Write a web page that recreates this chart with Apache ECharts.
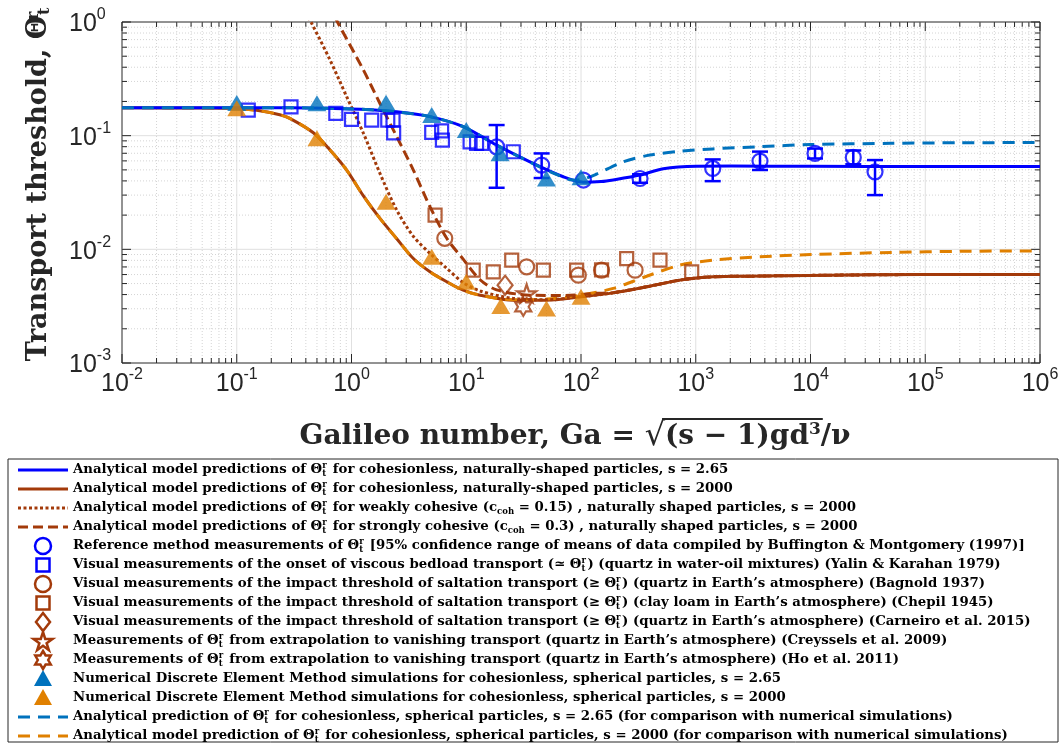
<!DOCTYPE html>
<html><head><meta charset="utf-8">
<script src="https://cdn.jsdelivr.net/npm/echarts@6/dist/echarts.min.js"></script>
<style>html,body{margin:0;padding:0;background:#fff}#c{width:1064px;height:746px}</style>
</head><body><div id="c"></div>
<script>
// ---------------- data ----------------
const xTickExponents = [-2, -1, 0, 1, 2, 3, 4, 5, 6];
const yTickExponents = [-3, -2, -1, 0];

// analytical curves [Ga, Theta]
const analyticNatural265 = [[0.01,0.176],[0.1,0.176],[0.3,0.176],[0.65,0.174],[1.2,0.171],[2.48,0.162],[4.83,0.147],[9.4,0.12],[18.4,0.0826],[35.9,0.0589],[70,0.0435],[105,0.039],[150,0.0395],[191,0.0408],[327,0.045],[521,0.0512],[1019,0.0538],[2053,0.054],[1e4,0.0538],[1e5,0.0535],[1e6,0.0535]];
const analyticSpherical265 = [[0.01,0.176],[0.1,0.176],[0.3,0.176],[0.65,0.174],[1.2,0.171],[2.48,0.162],[4.83,0.147],[9.4,0.12],[18.4,0.0826],[35.9,0.0585],[60,0.046],[85,0.0408],[105,0.0415],[137,0.046],[234,0.0589],[398,0.0675],[700,0.0725],[1406,0.0765],[3630,0.08],[1e4,0.0835],[5e4,0.0856],[2e5,0.0866],[1e6,0.087]];
const analyticNatural2000 = [[0.01,0.176],[0.05,0.175],[0.1,0.173],[0.149,0.167],[0.237,0.153],[0.29,0.142],[0.465,0.106],[0.65,0.0747],[0.908,0.0498],[1.27,0.0295],[1.77,0.0187],[2.48,0.0124],[3.46,0.0083],[4.83,0.00634],[6.76,0.00518],[9.4,0.00437],[13.2,0.00395],[25.7,0.00357],[50,0.00357],[98,0.00382],[191,0.00414],[373,0.00468],[729,0.00536],[1422,0.00573],[2870,0.0058],[1e4,0.0059],[1e5,0.006],[1e6,0.006]];
const analyticSpherical2000 = [[0.01,0.176],[0.05,0.175],[0.1,0.173],[0.149,0.167],[0.237,0.153],[0.29,0.142],[0.465,0.106],[0.65,0.0747],[0.908,0.0498],[1.27,0.0295],[1.77,0.0187],[2.48,0.0124],[3.46,0.0083],[4.83,0.00634],[6.76,0.00518],[9.4,0.00437],[13.2,0.00395],[25.7,0.0036],[50,0.00365],[98,0.00395],[191,0.00453],[373,0.0058],[729,0.00726],[1422,0.00804],[3630,0.0086],[1e4,0.009],[5.2e4,0.0094],[2e5,0.0096],[1e6,0.0097]];
const weakCohesive2000 = [[0.42,1.1],[0.45,0.973],[0.65,0.463],[0.908,0.22],[1.27,0.105],[1.77,0.0466],[2.48,0.0221],[3.46,0.013],[4.83,0.0092],[6.76,0.0068],[9.4,0.0051],[13.2,0.0043],[25.7,0.0037],[50,0.0036],[98,0.00382],[191,0.00414],[373,0.00468],[729,0.00536],[1422,0.00573],[2870,0.0058],[1e4,0.0059],[1e5,0.006],[1e6,0.006]];
const strongCohesive2000 = [[0.72,1.1],[0.767,0.97],[1.27,0.378],[1.77,0.192],[2.48,0.0978],[3.46,0.0498],[4.83,0.0237],[6.76,0.0125],[9.4,0.0082],[13.2,0.0054],[18.4,0.0044],[35.9,0.00395],[70,0.00392],[137,0.0041],[191,0.00416],[373,0.00468],[729,0.00536],[1422,0.00573],[2870,0.0058],[1e4,0.0059],[1e5,0.006],[1e6,0.006]];

// measurements
const buffingtonGa    = [18.4, 45.4, 105, 327, 1406, 3630, 10950, 23600, 36500];
const buffingtonTheta = [0.0798, 0.0551, 0.0407, 0.042, 0.0515, 0.0598, 0.0698, 0.0644, 0.0481];
const buffingtonLow   = [0.0348, 0.0424, null, 0.0385, 0.0398, 0.0499, 0.063, 0.056, 0.030];
const buffingtonHigh  = [0.124, 0.0698, null, 0.0458, 0.0618, 0.0724, 0.077, 0.0741, 0.061];
const yalinKarahan = [[0.126,0.168],[0.297,0.179],[0.73,0.157],[1.0,0.139],[1.5,0.137],[2.07,0.137],[2.3,0.137],[2.33,0.106],[5.0,0.107],[6.1,0.11],[6.2,0.0915],[10.8,0.0883],[12.3,0.0855],[13.6,0.0855],[25.7,0.0722]];
const bagnold = [[6.5,0.0125],[33.6,0.00702],[94.8,0.00593],[151,0.00656],[296,0.00656]];
const chepil = [[5.35,0.02],[11.5,0.00656],[17.2,0.00634],[24.9,0.00804],[47,0.00656],[91.6,0.00656],[151,0.0066],[250,0.0083],[488,0.00804],[922,0.00634]];
const carneiro = [[21.8,0.00484]];
const creyssels = [[33.6,0.00409]];
const hoEtAl = [[31.4,0.00312]];
const demSpherical265 = [[0.1,0.194],[0.5,0.193],[2,0.195],[5,0.152],[10,0.112],[19.7,0.0699],[50,0.042],[100,0.043]];
const demSpherical2000 = [[0.1,0.174],[0.5,0.0947],[2,0.0262],[5,0.00859],[10,0.00518],[20,0.00318],[50,0.00302],[100,0.00382]];

// ---------------- styling ----------------
const C = {blue:'#0000FF', brown:'#A33A0A', steel:'#0072BD', orange:'#E08000', axis:'#262626'};
const PENTA = 'path://M0 -50 L11.23 -15.45 L47.55 -15.45 L18.17 5.9 L29.39 40.45 L0 19.1 L-29.39 40.45 L-18.17 5.9 L-47.55 -15.45 L-11.23 -15.45 Z';
const HEXA = 'path://M0 -50 L14.43 -25 L43.3 -25 L28.87 0 L43.3 25 L14.43 25 L0 50 L-14.43 25 L-43.3 25 L-28.87 0 L-43.3 -25 L-14.43 -25 Z';
const SANS = '"Liberation Sans", Arial, sans-serif';
const SERIF = '"DejaVu Serif", serif';

const chart = echarts.init(document.getElementById('c'), null, {renderer:'canvas'});

const tickLabelRich = {
  b:{fontSize:25, fontFamily:SANS, color:C.axis, lineHeight:30, verticalAlign:'bottom'},
  s:{fontSize:16, fontFamily:SANS, color:C.axis, lineHeight:16, verticalAlign:'top'}
};
function expLabel(v){ const e = Math.round(Math.log10(v)); return '{b|10}{s|' + e + '}'; }

function frameRender(params, api){
  const cs = params.coordSys;
  const L = cs.x, T = cs.y, R = cs.x + cs.width, B = cs.y + cs.height;
  const ch = [];
  const ln = (x1,y1,x2,y2,st) => ch.push({type:'line', shape:{x1,y1,x2,y2}, style:st});
  const minorGrid = {stroke:'#D4D4D4', lineWidth:1, lineDash:[1,2]};
  const majorGrid = {stroke:'#E0E0E0', lineWidth:1};
  const tk = {stroke:C.axis, lineWidth:1};
  xTickExponents.forEach((e, i) => {
    const xv = Math.pow(10, e);
    const px = api.coord([xv, 0.01])[0];
    if (i > 0 && i < xTickExponents.length - 1) ln(px, T, px, B, majorGrid);
    ln(px, B, px, B - 9, tk); ln(px, T, px, T + 9, tk);
    if (i < xTickExponents.length - 1) {
      for (let m = 2; m <= 9; m++) {
        const mx = api.coord([m * xv, 0.01])[0];
        ln(mx, T, mx, B, minorGrid);
        ln(mx, B, mx, B - 5, tk); ln(mx, T, mx, T + 5, tk);
      }
    }
  });
  yTickExponents.forEach((e, i) => {
    const yv = Math.pow(10, e);
    const py = api.coord([1, yv])[1];
    if (i > 0 && i < yTickExponents.length - 1) ln(L, py, R, py, majorGrid);
    ln(L, py, L + 9, py, tk); ln(R, py, R - 9, py, tk);
    if (i < yTickExponents.length - 1) {
      for (let m = 2; m <= 9; m++) {
        const my = api.coord([1, m * yv])[1];
        ln(L, my, R, my, minorGrid);
        ln(L, my, L + 5, my, tk); ln(R, my, R - 5, my, tk);
      }
    }
  });
  return {type:'group', children: ch};
}

function errorRender(params, api){
  const x = api.value(0), lo = api.value(2), hi = api.value(3);
  if (lo == null || isNaN(lo) || hi == null || isNaN(hi)) return null;
  const pLo = api.coord([x, lo]), pHi = api.coord([x, hi]);
  const st = {stroke:C.blue, lineWidth:2.5};
  return {type:'group', children:[
    {type:'line', shape:{x1:pLo[0], y1:pLo[1], x2:pHi[0], y2:pHi[1]}, style:st},
    {type:'line', shape:{x1:pLo[0]-8, y1:pLo[1], x2:pLo[0]+8, y2:pLo[1]}, style:st},
    {type:'line', shape:{x1:pHi[0]-8, y1:pHi[1], x2:pHi[0]+8, y2:pHi[1]}, style:st}
  ]};
}

const lineSeries = (data, color, dash, z) => ({
  type:'line', data, symbol:'none', smooth:0.3, clip:true, z,
  lineStyle:{color, width:3, type:dash}, silent:true
});
const open = (color) => ({color:'rgba(0,0,0,0)', borderColor:color, borderWidth:2.2});

const buffingtonPoints = buffingtonGa.map((g, i) => [g, buffingtonTheta[i]]);
const buffingtonBars = buffingtonGa.map((g, i) => [g, buffingtonTheta[i], buffingtonLow[i], buffingtonHigh[i]]);

// ---------------- legend (graphic) ----------------
const TH = 'Θ{sr|r}{st|t}';
const legendRows = [
  {icon:'line', color:C.blue, dash:null, text:'Analytical model predictions of '+TH+' for cohesionless, naturally-shaped particles, s = 2.65'},
  {icon:'line', color:C.brown, dash:null, text:'Analytical model predictions of '+TH+' for cohesionless, naturally-shaped particles, s = 2000'},
  {icon:'line', color:C.brown, dash:[3,2.5], text:'Analytical model predictions of '+TH+' for weakly cohesive (c{sb|coh} = 0.15) , naturally shaped particles, s = 2000'},
  {icon:'line', color:C.brown, dash:[10,5], text:'Analytical model predictions of '+TH+' for strongly cohesive (c{sb|coh} = 0.3) , naturally shaped particles, s = 2000'},
  {icon:'circle', color:C.blue, text:'Reference method measurements of '+TH+' [95% confidence range of means of data compiled by Buffington & Montgomery (1997)]'},
  {icon:'square', color:C.blue, text:'Visual measurements of the onset of viscous bedload transport (≃ '+TH+') (quartz in water-oil mixtures) (Yalin & Karahan 1979)'},
  {icon:'circle', color:C.brown, text:'Visual measurements of the impact threshold of saltation transport (≥ '+TH+') (quartz in Earth’s atmosphere) (Bagnold 1937)'},
  {icon:'square', color:C.brown, text:'Visual measurements of the impact threshold of saltation transport (≥ '+TH+') (clay loam in Earth’s atmosphere) (Chepil 1945)'},
  {icon:'diamond', color:C.brown, text:'Visual measurements of the impact threshold of saltation transport (≥ '+TH+') (quartz in Earth’s atmosphere) (Carneiro et al. 2015)'},
  {icon:'penta', color:C.brown, text:'Measurements of '+TH+' from extrapolation to vanishing transport (quartz in Earth’s atmosphere) (Creyssels et al. 2009)'},
  {icon:'hexa', color:C.brown, text:'Measurements of '+TH+' from extrapolation to vanishing transport (quartz in Earth’s atmosphere) (Ho et al. 2011)'},
  {icon:'tri', color:C.steel, text:'Numerical Discrete Element Method simulations for cohesionless, spherical particles, s = 2.65'},
  {icon:'tri', color:C.orange, text:'Numerical Discrete Element Method simulations for cohesionless, spherical particles, s = 2000'},
  {icon:'line', color:C.steel, dash:[12,8], text:'Analytical prediction of '+TH+' for cohesionless, spherical particles, s = 2.65 (for comparison with numerical simulations)'},
  {icon:'line', color:C.orange, dash:[12,8], text:'Analytical model prediction of '+TH+' for cohesionless, spherical particles, s = 2000 (for comparison with numerical simulations)'}
];
const LEG_FS = 13.3;
const legRich = {
  sr:{fontSize:8.5, fontWeight:'bold', fontFamily:SERIF, fill:'#000', verticalAlign:'top', width:0.01},
  st:{fontSize:8.5, fontWeight:'bold', fontFamily:SERIF, fill:'#000', verticalAlign:'bottom', width:6},
  sb:{fontSize:8.5, fontWeight:'bold', fontFamily:SERIF, fill:'#000', verticalAlign:'bottom'}
};
function starPts(cx, cy, R, r, n, rot){
  const pts = [];
  for (let k = 0; k < 2*n; k++) {
    const a = rot + k * Math.PI / n;
    const rr = k % 2 === 0 ? R : r;
    pts.push([cx + rr*Math.cos(a), cy + rr*Math.sin(a)]);
  }
  return pts;
}
const legendGraphics = [{type:'rect', shape:{x:8, y:459, width:1050, height:283}, style:{fill:'#fff', stroke:C.axis, lineWidth:1}, z:0}];
legendRows.forEach((row, i) => {
  const cy = 470 + 19 * i, cx = 43;
  let icon;
  const os = {fill:'none', stroke:row.color, lineWidth:2.5};
  if (row.icon === 'line') icon = {type:'line', shape:{x1:18, y1:cy, x2:68, y2:cy}, style:{stroke:row.color, lineWidth:3, lineDash:row.dash || null}};
  else if (row.icon === 'circle') icon = {type:'circle', shape:{cx, cy, r:8}, style:os};
  else if (row.icon === 'square') icon = {type:'rect', shape:{x:cx-6.5, y:cy-6.5, width:13, height:13}, style:os};
  else if (row.icon === 'diamond') icon = {type:'polygon', shape:{points:[[cx,cy-9],[cx+7,cy],[cx,cy+9],[cx-7,cy]]}, style:os};
  else if (row.icon === 'penta') icon = {type:'polygon', shape:{points:starPts(cx, cy+1, 10, 3.8, 5, -Math.PI/2)}, style:os};
  else if (row.icon === 'hexa') icon = {type:'polygon', shape:{points:starPts(cx, cy, 9, 5.2, 6, -Math.PI/2)}, style:os};
  else if (row.icon === 'tri') icon = {type:'polygon', shape:{points:[[cx,cy-9],[cx+9,cy+7],[cx-9,cy+7]]}, style:{fill:row.color}};
  legendGraphics.push(Object.assign(icon, {z:1}));
  legendGraphics.push({type:'text', x:73, y:cy, z:1, style:{text:row.text, rich:legRich, fontSize:LEG_FS, fontWeight:'bold', fontFamily:SERIF, fill:'#000', verticalAlign:'middle', align:'left', lineHeight:17}});
});

// axis titles (x title: overline of the square root placed from measured text widths)
const TFS = 28, YFS = 27;
const titleRich = {
  t:{fontSize:TFS, fontWeight:'bold', fontFamily:SERIF, fill:'#262626'},
  r:{fontSize:32, fontFamily:SERIF, fill:'#262626'},
  s:{fontSize:17, fontWeight:'bold', fontFamily:SERIF, fill:'#262626', verticalAlign:'top'},
  y:{fontSize:YFS, fontWeight:'bold', fontFamily:SERIF, fill:'#262626'},
  sr:{fontSize:16, fontWeight:'bold', fontFamily:SERIF, fill:'#262626', verticalAlign:'top', width:0.01},
  st:{fontSize:16, fontWeight:'bold', fontFamily:SERIF, fill:'#262626', verticalAlign:'bottom', width:9}
};
const mctx = document.createElement('canvas').getContext('2d');
function tw(txt, font){ mctx.font = font; return mctx.measureText(txt).width; }
const fT = 'bold ' + TFS + 'px ' + SERIF, fR = '32px ' + SERIF, fS = 'bold 17px ' + SERIF;
const wA = tw('Galileo number, Ga = ', fT), wR = tw('√', fR), wB = tw('(s − 1)gd', fT), wS = tw('3', fS), wC = tw('/ν', fT);
const xTitleCx = 575, xTitleCy = 437;
const xTitleLeft = xTitleCx - (wA + wR + wB + wS + wC) / 2;
const overX1 = xTitleLeft + wA + wR * 0.85, overX2 = xTitleLeft + wA + wR + wB + wS + 2;
const titleGraphics = [
  {type:'text', x:xTitleCx, y:xTitleCy, z:1, style:{text:'{t|Galileo number, Ga = }{r|√}{t|(s − 1)gd}{s|3}{t|/ν}', rich:titleRich, align:'center', verticalAlign:'middle'}},
  {type:'line', z:1, shape:{x1:overX1, y1:xTitleCy - 18, x2:overX2, y2:xTitleCy - 18}, style:{stroke:'#262626', lineWidth:2}},
  {type:'text', x:39, y:184, rotation:Math.PI/2, z:1, style:{text:'{y|Transport threshold, Θ}{sr|r}{st|t}', rich:titleRich, align:'center', verticalAlign:'middle'}}
];

const option = {
  animation:false,
  backgroundColor:'#ffffff',
  grid:{left:122, right:24, top:22, bottom:383, show:true, borderColor:C.axis, borderWidth:1, backgroundColor:'#fff', containLabel:false, outerBoundsMode:'none'},
  xAxis:{type:'log', logBase:10, min:0.01, max:1e6, splitNumber:8,
    axisLine:{show:false}, axisTick:{show:false}, splitLine:{show:false}, minorTick:{show:false},
    axisLabel:{formatter:expLabel, rich:tickLabelRich, margin:4, interval:0, hideOverlap:false}},
  yAxis:{type:'log', logBase:10, min:0.001, max:1, splitNumber:3,
    axisLine:{show:false}, axisTick:{show:false}, splitLine:{show:false}, minorTick:{show:false},
    axisLabel:{formatter:expLabel, rich:tickLabelRich, margin:53, align:'left', interval:0, hideOverlap:false}},
  graphic:{elements: legendGraphics.concat(titleGraphics)},
  series:[
    {type:'custom', renderItem:frameRender, data:[[1,0.1]], z:1, silent:true, clip:false},
    lineSeries(analyticNatural2000, C.brown, 'solid', 3),
    lineSeries(analyticSpherical2000, C.orange, [12,8], 4),
    lineSeries(weakCohesive2000, C.brown, [3,2.5], 5),
    lineSeries(strongCohesive2000, C.brown, [10,5], 5),
    lineSeries(analyticNatural265, C.blue, 'solid', 6),
    lineSeries(analyticSpherical265, C.steel, [12,8], 7),
    {type:'custom', renderItem:errorRender, data:buffingtonBars, z:8, silent:true, encode:{x:0, y:1}},
    {type:'scatter', data:yalinKarahan, symbol:'rect', symbolSize:13, itemStyle:open(C.blue), z:9, silent:true},
    {type:'scatter', data:buffingtonPoints, symbol:'circle', symbolSize:15, itemStyle:open(C.blue), z:9, silent:true},
    {type:'scatter', data:chepil, symbol:'rect', symbolSize:13, itemStyle:open(C.brown), z:9, silent:true},
    {type:'scatter', data:bagnold, symbol:'circle', symbolSize:15, itemStyle:open(C.brown), z:9, silent:true},
    {type:'scatter', data:carneiro, symbol:'diamond', symbolSize:[15,19], itemStyle:open(C.brown), z:9, silent:true},
    {type:'scatter', data:creyssels, symbol:PENTA, symbolSize:[19,18], itemStyle:open(C.brown), z:9, silent:true},
    {type:'scatter', data:hoEtAl, symbol:HEXA, symbolSize:[16,18], itemStyle:open(C.brown), z:9, silent:true},
    {type:'scatter', data:demSpherical265, symbol:'triangle', symbolSize:[19,16], itemStyle:{color:C.steel}, z:10, silent:true},
    {type:'scatter', data:demSpherical2000, symbol:'triangle', symbolSize:[19,16], itemStyle:{color:C.orange}, z:10, silent:true}
  ]
};
chart.setOption(option);
</script></body></html>
